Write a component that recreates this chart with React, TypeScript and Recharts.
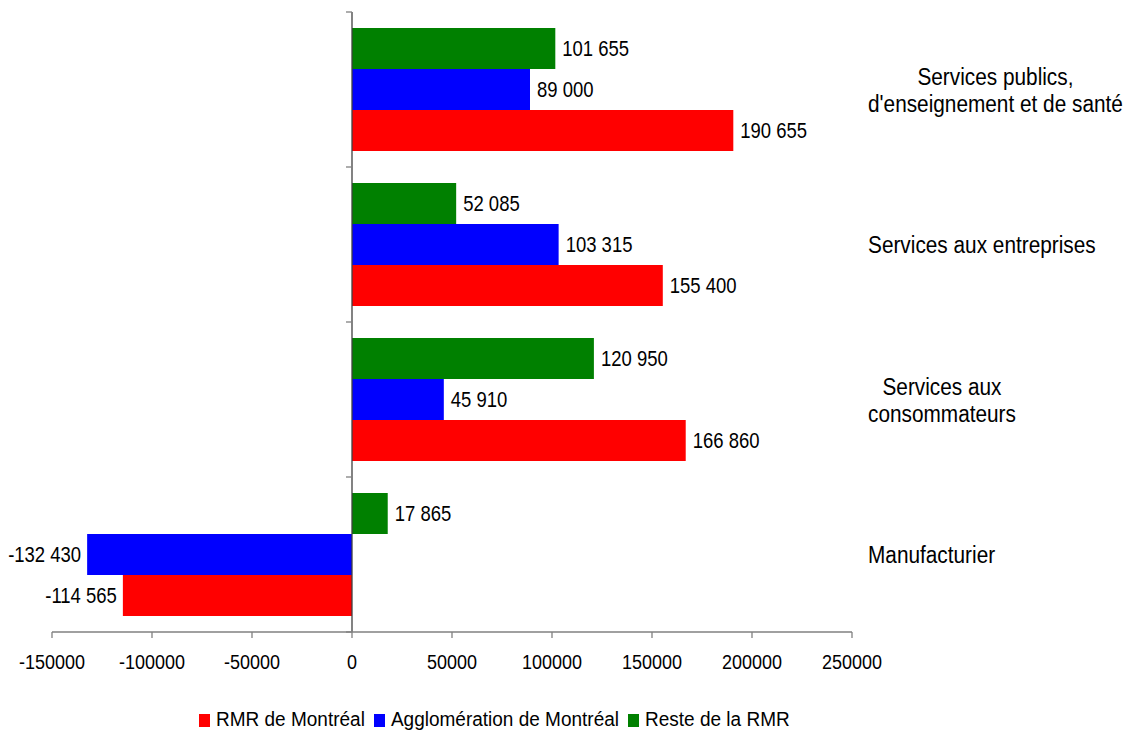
import React from 'react';
import {
  BarChart,
  Bar,
  XAxis,
  YAxis,
  ReferenceLine,
  LabelList,
} from 'recharts';

const categories = [
  "Services publics,\nd'enseignement et de santé",
  'Services aux entreprises',
  'Services aux\nconsommateurs',
  'Manufacturier',
];
const rmrMontreal = [190655, 155400, 166860, -114565];
const agglomeration = [89000, 103315, 45910, -132430];
const resteRmr = [101655, 52085, 120950, 17865];
const xTicks = [-150000, -100000, -50000, 0, 50000, 100000, 150000, 200000, 250000];

const series = [
  { key: 'rmr', name: 'RMR de Montréal', color: '#FF0000' },
  { key: 'agglo', name: 'Agglomération de Montréal', color: '#0000FF' },
  { key: 'reste', name: 'Reste de la RMR', color: '#008000' },
];

const data = categories.map((name, i) => ({
  name,
  rmr: rmrMontreal[i],
  agglo: agglomeration[i],
  reste: resteRmr[i],
}));

const FONT = '"Liberation Sans", Arial, sans-serif';
const TICK_SIZE = 18;
const VALUE_SIZE = 18.5;
const CAT_SIZE = 20.8;
const LEGEND_SIZE = 19;
// glyphs are drawn slightly taller than wide
const STRETCH = 1.15;

const ctx =
  typeof document !== 'undefined'
    ? document.createElement('canvas').getContext('2d')
    : null;

function textWidth(s: string, size: number) {
  if (!ctx) return s.length * size * 0.5;
  ctx.font = `${size}px ${FONT}`;
  return ctx.measureText(s).width;
}

function formatValue(v: number) {
  const abs = Math.abs(v)
    .toString()
    .replace(/\B(?=(\d{3})+(?!\d))/g, ' ');
  return v < 0 ? `-${abs}` : abs;
}

function TallText({ x, y, size, anchor, children }: any) {
  return (
    <text
      transform={`translate(${x},${y}) scale(1,${STRETCH})`}
      dy="0.36em"
      textAnchor={anchor}
      fontFamily={FONT}
      fontSize={size}
      fill="#000"
    >
      {children}
    </text>
  );
}

// value printed just past the end of each bar
function ValueLabel(props: any) {
  const { x, y, width, height, value } = props;
  const left = Math.min(x, x + width);
  const right = Math.max(x, x + width);
  const neg = value < 0;
  return (
    <TallText
      x={neg ? left - 6 : right + 7}
      y={y + height / 2}
      size={VALUE_SIZE}
      anchor={neg ? 'end' : 'start'}
    >
      {formatValue(value)}
    </TallText>
  );
}

function NumberTick(props: any) {
  const { x, y, payload } = props;
  return (
    <text
      transform={`translate(${x},${y}) scale(1,${STRETCH})`}
      y={13}
      textAnchor="middle"
      fontFamily={FONT}
      fontSize={TICK_SIZE}
      fill="#000"
    >
      {payload.value}
    </text>
  );
}

// category names on the right, lines centered within their own block
function CategoryTick(props: any) {
  const { y, payload } = props;
  const lines = String(payload.value).split('\n');
  const maxW = Math.max(...lines.map((l) => textWidth(l, CAT_SIZE)));
  const cx = 868 + maxW / 2;
  const lh = 27;
  const top = y - ((lines.length - 1) * lh) / 2;
  return (
    <g>
      {lines.map((l, i) => (
        <TallText key={i} x={cx} y={top + i * lh} size={CAT_SIZE} anchor="middle">
          {l}
        </TallText>
      ))}
    </g>
  );
}

// zero line doubling as the category axis, with marks between categories
function ZeroAxis(props: any) {
  const { x1, y1, y2 } = props;
  const n = categories.length;
  const step = (y2 - y1) / n;
  return (
    <g>
      <line x1={x1} y1={y1} x2={x1} y2={y2} stroke="#404040" strokeWidth={1.3} />
      {Array.from({ length: n + 1 }, (_, i) => (
        <line
          key={i}
          x1={x1 - 6}
          x2={x1}
          y1={y1 + i * step}
          y2={y1 + i * step}
          stroke="#808080"
          strokeWidth={1.3}
        />
      ))}
    </g>
  );
}

export default function App() {
  const drawOrder = [series[2], series[1], series[0]];
  return (
    <div
      style={{
        position: 'absolute',
        left: 0,
        top: 0,
        width: 1130,
        height: 731,
        background: '#fff',
      }}
    >
      <BarChart
        width={1130}
        height={731}
        data={data}
        layout="vertical"
        margin={{ top: 12, right: 0, bottom: 69, left: 52 }}
        barCategoryGap={16}
        barGap={0}
      >
        <XAxis
          type="number"
          domain={[-150000, 250000]}
          ticks={xTicks}
          interval={0}
          height={30}
          stroke="#808080"
          strokeWidth={1.3}
          tickSize={6}
          tickMargin={16}
          tick={<NumberTick />}
          allowDataOverflow
        />
        <YAxis
          type="category"
          dataKey="name"
          orientation="right"
          width={278}
          axisLine={false}
          tickLine={false}
          interval={0}
          tick={<CategoryTick />}
        />
        {drawOrder.map((s) => (
          <Bar
            key={s.key}
            dataKey={s.key}
            name={s.name}
            fill={s.color}
            isAnimationActive={false}
          >
            <LabelList dataKey={s.key} content={<ValueLabel />} />
          </Bar>
        ))}
        <ReferenceLine x={0} shape={<ZeroAxis />} />
      </BarChart>
      <div
        style={{
          position: 'absolute',
          left: 199,
          top: 709,
          display: 'flex',
          alignItems: 'center',
          fontFamily: FONT,
          fontSize: LEGEND_SIZE,
          color: '#000',
          whiteSpace: 'nowrap',
        }}
      >
        {series.map((s) => (
          <div
            key={s.key}
            style={{ display: 'flex', alignItems: 'center', marginRight: 9 }}
          >
            <span
              style={{
                display: 'inline-block',
                width: 11,
                height: 13,
                background: s.color,
                marginRight: 6,
              }}
            />
            <span style={{ display: 'inline-block', transform: 'scaleY(1.08)' }}>
              {s.name}
            </span>
          </div>
        ))}
      </div>
    </div>
  );
}
